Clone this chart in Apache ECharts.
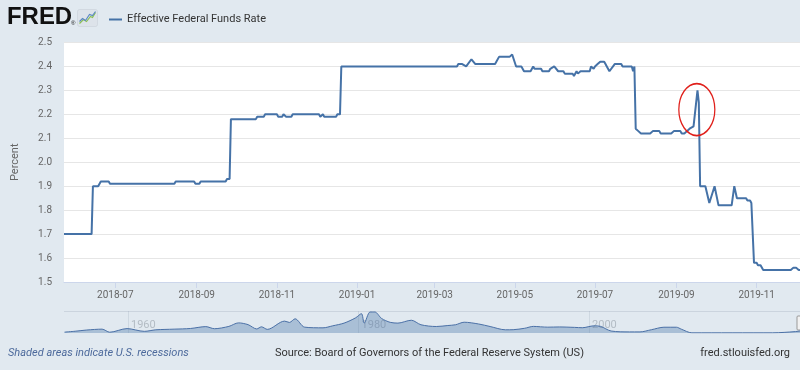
<!DOCTYPE html>
<html><head><meta charset="utf-8">
<script src="https://cdn.jsdelivr.net/npm/echarts@6/dist/echarts.min.js"></script>
<style>html,body{margin:0;padding:0;background:#e1e9f0;}#c{width:800px;height:370px;}</style>
</head><body><div id="c"></div>
<script>
const seriesName = 'Effective Federal Funds Rate';
const dates = ['2018-05-23','2018-06-13','2018-06-14','2018-06-18','2018-06-20','2018-06-26','2018-06-27','2018-08-15','2018-08-16','2018-08-30','2018-08-31','2018-09-03','2018-09-04','2018-09-23','2018-09-24','2018-09-26','2018-09-27','2018-10-16','2018-10-17','2018-10-22','2018-10-23','2018-11-01','2018-11-02','2018-11-05','2018-11-06','2018-11-07','2018-11-08','2018-11-12','2018-11-13','2018-12-03','2018-12-04','2018-12-05','2018-12-06','2018-12-07','2018-12-16','2018-12-17','2018-12-19','2018-12-20','2019-03-18','2019-03-19','2019-03-22','2019-03-25','2019-03-29','2019-04-01','2019-04-16','2019-04-19','2019-04-27','2019-04-29','2019-04-30','2019-05-02','2019-05-06','2019-05-08','2019-05-13','2019-05-15','2019-05-16','2019-05-21','2019-05-22','2019-05-27','2019-05-28','2019-05-31','2019-06-01','2019-06-03','2019-06-07','2019-06-08','2019-06-14','2019-06-15','2019-06-17','2019-06-18','2019-06-20','2019-06-27','2019-06-28','2019-06-30','2019-07-01','2019-07-03','2019-07-05','2019-07-08','2019-07-09','2019-07-10','2019-07-12','2019-07-13','2019-07-16','2019-07-21','2019-07-22','2019-07-29','2019-07-30','2019-07-31','2019-08-01','2019-08-03','2019-08-05','2019-08-12','2019-08-14','2019-08-19','2019-08-20','2019-08-28','2019-08-30','2019-09-04','2019-09-05','2019-09-07','2019-09-09','2019-09-11','2019-09-14','2019-09-16','2019-09-17','2019-09-18','2019-09-19','2019-09-23','2019-09-26','2019-09-27','2019-09-30','2019-10-03','2019-10-13','2019-10-15','2019-10-17','2019-10-24','2019-10-25','2019-10-27','2019-10-28','2019-10-29','2019-10-30','2019-11-01','2019-11-02','2019-11-04','2019-11-06','2019-11-27','2019-11-29','2019-12-01','2019-12-03','2019-12-04'];
const rates = [1.70,1.70,1.90,1.90,1.92,1.92,1.91,1.91,1.92,1.92,1.91,1.91,1.92,1.92,1.93,1.93,2.18,2.18,2.19,2.19,2.20,2.20,2.19,2.19,2.20,2.20,2.19,2.19,2.20,2.20,2.19,2.19,2.20,2.19,2.19,2.20,2.20,2.40,2.40,2.41,2.41,2.40,2.43,2.41,2.41,2.44,2.44,2.45,2.45,2.40,2.40,2.38,2.38,2.40,2.39,2.39,2.38,2.38,2.39,2.40,2.40,2.38,2.38,2.37,2.37,2.36,2.38,2.37,2.38,2.38,2.40,2.39,2.40,2.41,2.42,2.42,2.41,2.40,2.38,2.38,2.41,2.41,2.40,2.40,2.38,2.40,2.14,2.13,2.12,2.12,2.13,2.13,2.12,2.12,2.13,2.13,2.12,2.12,2.13,2.14,2.15,2.25,2.30,2.25,1.90,1.90,1.83,1.83,1.90,1.82,1.82,1.90,1.85,1.85,1.84,1.84,1.83,1.83,1.58,1.58,1.57,1.57,1.55,1.55,1.56,1.56,1.55,1.55];
const xMin = '2018-05-23', xMax = '2019-12-04';
const xTickLabels = ['2018-07','2018-09','2018-11','2019-01','2019-03','2019-05','2019-07','2019-09','2019-11'];
const yMin = 1.5, yMax = 2.5, yStep = 0.1;
const highlightDate = '2019-09-16T12:00:00Z', highlightValue = 2.22;

// navigator (full history, rough read of the mini chart)
const navDates = ['1954-07','1955-06','1956-06','1957-10','1958-06','1959-12','1961-06','1962-06','1964-01','1965-06','1966-10','1967-07','1968-10','1969-08','1970-06','1971-03','1971-08','1972-02','1973-08','1974-01','1974-07','1975-05','1976-12','1977-10','1978-10','1979-10','1980-04','1980-07','1981-01','1981-06','1982-01','1982-10','1983-06','1984-08','1985-06','1986-10','1987-10','1988-06','1989-03','1990-06','1991-06','1992-10','1993-06','1994-06','1995-03','1996-06','1997-06','1998-10','1999-06','2000-06','2001-01','2001-12','2003-07','2004-06','2005-06','2006-07','2007-08','2008-01','2008-12','2015-12','2016-12','2017-12','2018-12','2019-07','2019-12'];
const navRates = [0.8,1.6,2.7,3.5,0.7,4.0,1.5,2.9,3.5,4.1,5.8,3.9,6.0,9.2,7.6,3.7,5.6,3.3,10.8,9.6,12.9,5.3,4.7,6.5,9.0,13.8,17.6,9.0,19.1,19.1,13.2,9.7,9.0,11.6,7.5,5.9,6.8,7.5,9.8,8.2,5.9,2.9,3.0,4.3,6.0,5.3,5.5,5.1,4.8,6.5,6.0,1.8,1.0,1.0,3.0,5.25,5.25,3.5,0.15,0.15,0.55,1.3,2.4,2.4,1.55];
const navMin = '1954-06-13', navMax = '2018-04-20';
const navTickLabels = ['1960','1980','2000'];

const FONT = 'Roboto, "Open Sans", sans-serif';
const T = s => Date.parse(s.length <= 10 ? s + 'T00:00:00Z' : s);
const xTickValues = xTickLabels.map(s => T(s + '-01'));
const xLabelMap = {}; xTickValues.forEach((v, i) => xLabelMap[v] = xTickLabels[i]);
const navTickValues = navTickLabels.map(s => T(s + '-01-01'));
const navLabelMap = {}; navTickValues.forEach((v, i) => navLabelMap[v] = navTickLabels[i]);

const chart = echarts.init(document.getElementById('c'), null, {renderer: 'canvas'});
chart.setOption({
  animation: false,
  backgroundColor: '#e1e9f0',
  textStyle: {fontFamily: FONT},
  legend: {
    data: [seriesName], left: 104, top: 9, icon: 'rect', itemWidth: 13, itemHeight: 2, itemGap: 5,
    textStyle: {color: '#333', fontSize: 11, fontFamily: FONT}, selectedMode: false
  },
  grid: [
    {left: 64, right: 0, top: 42.5, bottom: 88, show: true, backgroundColor: '#fff', borderWidth: 0},
    {left: 64, right: 0, top: 311, height: 22, show: false}
  ],
  xAxis: [
    {
      type: 'value', gridIndex: 0, min: T(xMin), max: T(xMax),
      axisLine: {show: true, lineStyle: {color: '#ccd6eb'}},
      axisTick: {show: true, length: 6, customValues: xTickValues, lineStyle: {color: '#ccd6eb'}},
      axisLabel: {customValues: xTickValues, formatter: v => xLabelMap[v] || '', color: '#666', fontSize: 10, margin: 8, fontFamily: FONT, showMinLabel: true, showMaxLabel: true, hideOverlap: false},
      splitLine: {show: false}
    },
    {
      type: 'value', gridIndex: 1, min: T(navMin), max: T(navMax),
      axisLine: {show: false},
      axisTick: {show: true, inside: true, length: 22, customValues: navTickValues, lineStyle: {color: 'rgba(120,140,160,0.18)'}},
      axisLabel: {customValues: navTickValues, inside: true, formatter: v => navLabelMap[v] || '', color: 'rgba(110,120,130,0.4)', fontSize: 11, margin: 2, align: 'left', padding: [0,0,0,3], fontFamily: FONT, showMinLabel: true, showMaxLabel: true},
      splitLine: {show: false}
    }
  ],
  yAxis: [
    {
      type: 'value', gridIndex: 0, min: yMin, max: yMax, interval: yStep,
      name: 'Percent', nameLocation: 'middle', nameGap: 43, nameRotate: 90,
      nameTextStyle: {color: '#666', fontSize: 11, fontFamily: FONT},
      axisLine: {show: false}, axisTick: {show: false},
      axisLabel: {formatter: v => v.toFixed(1), color: '#666', fontSize: 10, margin: 12, fontFamily: FONT},
      splitLine: {show: true, lineStyle: {color: '#e6e6e6', width: 1}}
    },
    {type: 'value', gridIndex: 1, min: 0, max: 20, show: false}
  ],
  series: [
    {
      name: seriesName, type: 'line', xAxisIndex: 0, yAxisIndex: 0,
      data: dates.map((d, i) => [T(d), rates[i]]),
      showSymbol: false, symbol: 'none', clip: true,
      lineStyle: {color: '#4572a7', width: 2}, itemStyle: {color: '#4572a7'},
      markPoint: {
        silent: true,
        symbol: 'path://M0 50A50 50 0 1 1 100 50A50 50 0 1 1 0 50Z',
        symbolSize: [36, 52], symbolKeepAspect: false,
        itemStyle: {color: 'rgba(0,0,0,0)', borderColor: '#e0201b', borderWidth: 1.5},
        label: {show: false},
        data: [{coord: [T(highlightDate), highlightValue]}]
      }
    },
    {
      name: 'nav', type: 'line', xAxisIndex: 1, yAxisIndex: 1,
      data: navDates.map((d, i) => [T(d + '-01'), navRates[i]]),
      showSymbol: false, symbol: 'none', clip: true, smooth: 0.3,
      lineStyle: {color: '#4a70a6', width: 1},
      areaStyle: {color: 'rgba(69,114,167,0.5)'}
    }
  ],
  graphic: [
    {type: 'text', left: 7, top: 6, style: {text: 'FRED', font: 'bold 23px "Liberation Sans", Arial, sans-serif', fill: '#111'}, scaleX: 1.04},
    {type: 'text', left: 71, top: 20, style: {text: '®', font: '6px "Liberation Sans"', fill: '#111'}},
    {type: 'group', left: 77, top: 9, children: [
      {type: 'rect', shape: {x: 0, y: 0, width: 20, height: 17, r: 2}, style: {fill: '#dde3ea', stroke: '#c9d0d8', lineWidth: 0.6}},
      {type: 'polyline', shape: {points: [[2,14],[6,10],[9,12],[13,7],[15,8],[18,3]]}, style: {stroke: '#8cc152', lineWidth: 1.2, fill: null}},
      {type: 'polyline', shape: {points: [[2,12],[5,9],[8,11],[12,5],[15,6],[18,2]]}, style: {stroke: '#5b87c5', lineWidth: 1.1, fill: null}}
    ]},
    {type: 'line', shape: {x1: 64, y1: 311.5, x2: 800, y2: 311.5}, style: {stroke: '#cbd4de', lineWidth: 1}},
    {type: 'rect', shape: {x: 797, y: 316, width: 8, height: 14, r: 1}, style: {fill: '#f2f2f2', stroke: '#999', lineWidth: 1}},
    {type: 'text', left: 8, top: 348, style: {text: 'Shaded areas indicate U.S. recessions', font: 'italic 11px Roboto, sans-serif', fill: '#4d6a9c'}},
    {type: 'text', left: 275, top: 348, style: {text: 'Source: Board of Governors of the Federal Reserve System (US)', font: '11px Roboto, sans-serif', fill: '#333'}},
    {type: 'text', right: 10, top: 348, style: {text: 'fred.stlouisfed.org', font: '11px Roboto, sans-serif', fill: '#333'}}
  ]
});
</script></body></html>
